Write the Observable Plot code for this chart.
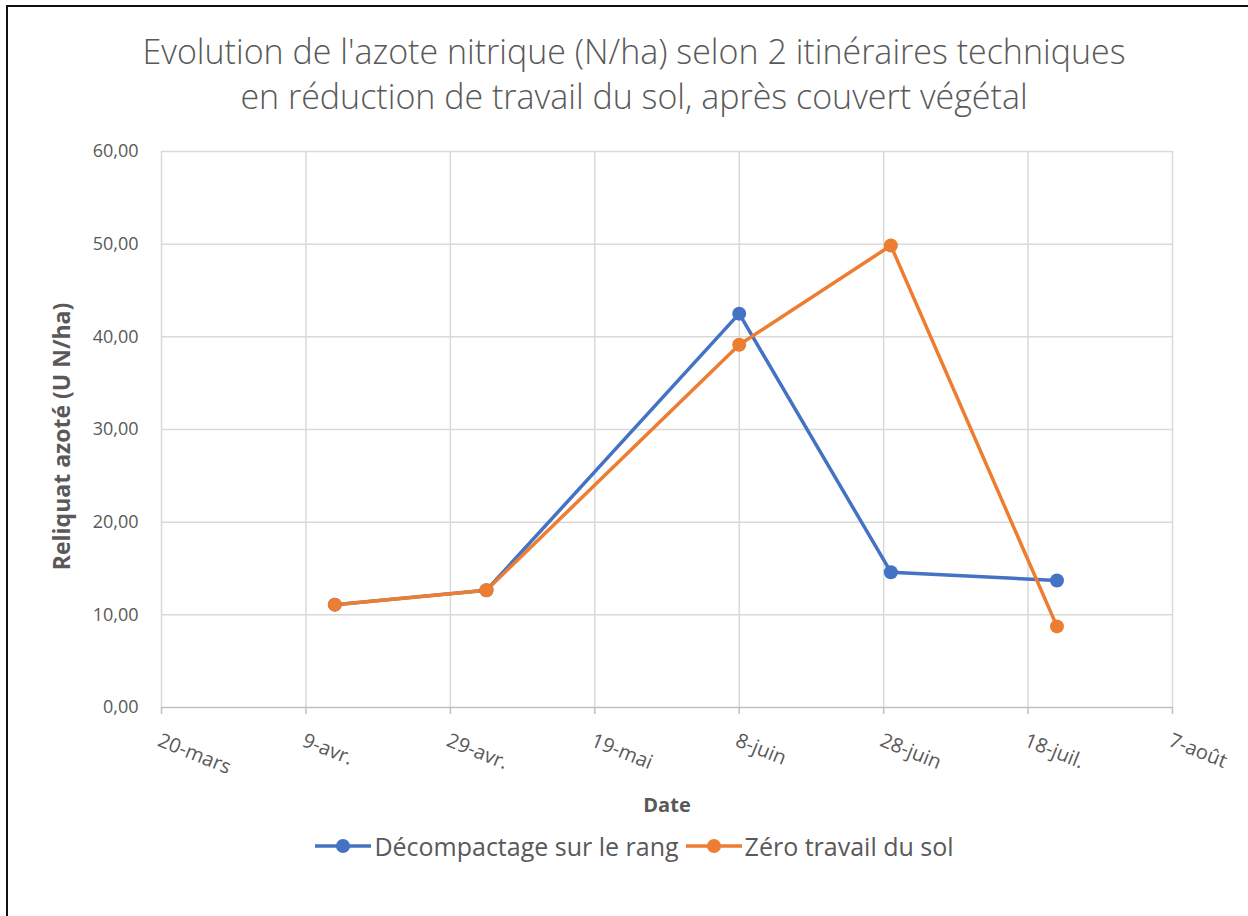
<!DOCTYPE html>
<html>
<head>
<meta charset="utf-8">
<script src="https://cdn.jsdelivr.net/npm/d3@7"></script>
<script src="https://cdn.jsdelivr.net/npm/@observablehq/plot@0.6"></script>
<style>
  html, body { margin: 0; padding: 0; background: #fff; overflow: hidden; }
  body { width: 1248px; height: 916px; position: relative; font-family: "Open Sans", sans-serif; }
  #frame { position: absolute; left: 6px; top: 5px; width: 1300px; height: 1000px; border-top: 2px solid #111; border-left: 2px solid #111; }
  #title { position: absolute; left: 0; top: 29px; width: 1268px; text-align: center; color: #595959; font-size: 34px; font-weight: 300; line-height: 45px; white-space: nowrap; }
  #chart { position: absolute; left: 0; top: 130px; }
  #legend { position: absolute; left: 0; top: 828px; width: 1268px; display: flex; justify-content: center; align-items: center; color: #595959; font-size: 25px; line-height: 36px; }
  .item { display: flex; align-items: center; margin: 0 3px; }
  .item svg { margin-right: 2px; }
</style>
</head>
<body>
<div id="frame"></div>
<div id="title">Evolution de l'azote nitrique (N/ha) selon 2 itinéraires techniques<br>en réduction de travail du sol, après couvert végétal</div>
<div id="chart"></div>
<div id="legend"></div>
<script>
const dates = ["2021-04-13", "2021-05-04", "2021-06-08", "2021-06-29", "2021-07-22"];
const decompactage = [11.1, 12.65, 42.5, 14.6, 13.7];
const zeroTravail = [11.1, 12.65, 39.15, 49.85, 8.75];
const seriesNames = ["Décompactage sur le rang", "Zéro travail du sol"];
const seriesColors = ["#4472C4", "#ED7D31"];
const xTickDates = ["2021-03-20", "2021-04-09", "2021-04-29", "2021-05-19", "2021-06-08", "2021-06-28", "2021-07-18", "2021-08-07"];
const xTickLabels = ["20-mars", "9-avr.", "29-avr.", "19-mai", "8-juin", "28-juin", "18-juil.", "7-août"];
const yTicks = [0, 10, 20, 30, 40, 50, 60];
const yTickLabels = ["0,00", "10,00", "20,00", "30,00", "40,00", "50,00", "60,00"];
const yLabel = "Reliquat azoté (U N/ha)";
const xLabel = "Date";

const parse = d3.utcParse("%Y-%m-%d");
const xTicks = xTickDates.map(parse);
const data = [];
[decompactage, zeroTravail].forEach((vals, s) => {
  vals.forEach((v, i) => data.push({date: parse(dates[i]), value: v, series: seriesNames[s]}));
});

const chart = Plot.plot({
  width: 1248,
  height: 700,
  marginLeft: 161,
  marginRight: 76,
  marginTop: 21,
  marginBottom: 123,
  style: {fontFamily: "Open Sans", fontSize: "18px", color: "#595959", background: "transparent", overflow: "visible"},
  x: {type: "utc", domain: [xTicks[0], xTicks[xTicks.length - 1]]},
  y: {domain: [0, 60]},
  color: {domain: seriesNames, range: seriesColors},
  marks: [
    Plot.ruleY(yTicks.slice(1), {stroke: "#d9d9d9", strokeWidth: 1.5}),
    Plot.ruleX(xTicks, {stroke: "#d9d9d9", strokeWidth: 1.5}),
    Plot.ruleY([0], {stroke: "#bfbfbf", strokeWidth: 1.5}),
    Plot.axisX({ticks: xTicks, tickSize: 7, tickFormat: () => "", stroke: "#bfbfbf", strokeWidth: 1.5, label: null}),
    Plot.text(xTicks, {x: d => d, text: (d, i) => xTickLabels[i], frameAnchor: "bottom", textAnchor: "start", lineAnchor: "bottom", rotate: 22, dy: 38, dx: -5, fontSize: 20, fill: "#595959"}),
    Plot.axisY({ticks: yTicks, tickFormat: d => yTickLabels[yTicks.indexOf(d)], tickSize: 0, tickPadding: 23, fontSize: 18, label: null}),
    Plot.text([yLabel], {frameAnchor: "left", textAnchor: "middle", dx: -99, dy: 7, rotate: -90, fontSize: 23, fontWeight: "bold", fill: "#595959"}),
    Plot.text([xLabel], {frameAnchor: "bottom", textAnchor: "middle", dy: 104, fontSize: 20, fontWeight: "bold", fill: "#595959"}),
    Plot.line(data, {x: "date", y: "value", z: "series", stroke: "series", strokeWidth: 3.5}),
    Plot.dot(data, {x: "date", y: "value", fill: "series", r: 7, stroke: "none"})
  ]
});
document.getElementById("chart").appendChild(chart);

const legend = document.getElementById("legend");
seriesNames.forEach((name, i) => {
  const item = document.createElement("div");
  item.className = "item";
  item.innerHTML = `<svg width="58" height="20"><line x1="1" x2="57" y1="10" y2="10" stroke="${seriesColors[i]}" stroke-width="3.5"/><circle cx="29" cy="10" r="7" fill="${seriesColors[i]}"/></svg><span>${name}</span>`;
  legend.appendChild(item);
});
</script>
</body>
</html>
